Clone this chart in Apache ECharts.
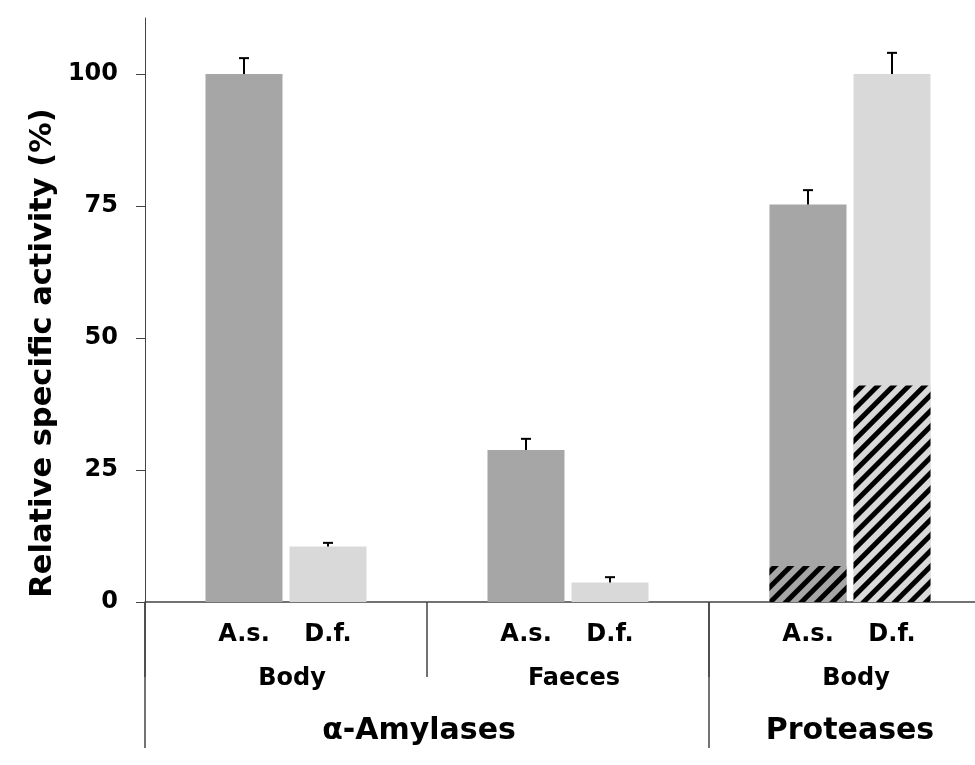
<!DOCTYPE html>
<html>
<head>
<meta charset="utf-8">
<script src="https://cdn.jsdelivr.net/npm/echarts@6/dist/echarts.min.js"></script>
<style>html,body{margin:0;padding:0;background:#fff;overflow:hidden;width:975px;height:765px}#c{width:991px;height:765px}</style>
</head>
<body>
<div id="c"></div>
<script>
const categories = ['Body', 'Faeces', 'Body'];
const seriesNames = ['A.s.', 'D.f.'];
const asValues = [100, 28.8, 75.3];
const dfValues = [10.5, 3.7, 100];
const asErrors = [3.0, 2.1, 2.7];
const dfErrors = [0.7, 1.0, 4.0];
const asHatch = [null, null, 6.8];
const dfHatch = [null, null, 41.0];
const yTicks = [0, 25, 50, 75, 100];
const yTitle = 'Relative specific activity (%)';
const groupNames = ['α-Amylases', 'Proteases'];
const groupSpans = [[0, 1], [2, 2]];

const FONT = 'DejaVu Sans';
const BAR_W = 77, BAR_GAP = 7;
const OFF = (BAR_W + BAR_GAP) / 2;
const AXIS_COLOR = '#444';

const chart = echarts.init(document.getElementById('c'), null, {renderer: 'canvas'});

function errSeries(vals, errs, offset) {
  return {
    type: 'custom',
    xAxisIndex: 0,
    z: 5,
    data: vals.map((v, i) => [i, v, errs[i]]),
    encode: {x: 0, y: 1},
    renderItem: function (params, api) {
      const i = api.value(0), v = api.value(1), e = api.value(2);
      const base = api.coord([i, v]);
      const top = api.coord([i, v + e]);
      const x = base[0] + offset;
      return {
        type: 'group',
        children: [
          {type: 'line', shape: {x1: x, y1: base[1], x2: x, y2: top[1]}, style: {stroke: '#000', lineWidth: 2}},
          {type: 'line', shape: {x1: x - 5, y1: top[1], x2: x + 5, y2: top[1]}, style: {stroke: '#000', lineWidth: 2}}
        ]
      };
    }
  };
}

const labelStyle = {show: true, position: 'bottom', distance: 21, fontFamily: FONT, fontWeight: 'bold', fontSize: 24, color: '#000'};
const decal = {symbol: 'rect', symbolSize: 1, color: '#000', dashArrayX: [1, 0], dashArrayY: [5, 6], rotation: -Math.PI / 4};
const gapPct = (BAR_GAP / BAR_W * 100).toFixed(1) + '%';

chart.setOption({
  animation: false,
  backgroundColor: '#fff',
  grid: {left: 145, right: 0, top: 18, bottom: 163, containLabel: false},
  xAxis: [{
    type: 'category',
    data: categories,
    axisLine: {lineStyle: {color: AXIS_COLOR, width: 1.5}},
    axisTick: {show: true, length: 75, interval: 0, alignWithLabel: false, lineStyle: {color: AXIS_COLOR, width: 1.5}},
    axisLabel: {margin: 65, fontFamily: FONT, fontWeight: 'bold', fontSize: 24, color: '#000', padding: [0, 0, 0, 12], interval: 0}
  }, {
    type: 'category',
    data: categories,
    show: false
  }],
  yAxis: {
    type: 'value',
    min: 0, max: 110.6, interval: 25,
    axisLine: {show: true, lineStyle: {color: AXIS_COLOR, width: 1}},
    axisTick: {show: true, length: 9, lineStyle: {color: AXIS_COLOR}, customValues: yTicks},
    splitLine: {show: false},
    axisLabel: {
      margin: 27, fontFamily: FONT, fontWeight: 'bold', fontSize: 24, color: '#000',
      customValues: yTicks,
      formatter: v => (yTicks.indexOf(v) >= 0 ? String(v) : '')
    }
  },
  series: [
    {name: seriesNames[0], type: 'bar', xAxisIndex: 0, data: asValues, barWidth: BAR_W, barGap: gapPct,
      itemStyle: {color: '#a6a6a6'}, label: Object.assign({formatter: seriesNames[0]}, labelStyle)},
    {name: seriesNames[1], type: 'bar', xAxisIndex: 0, data: dfValues, barWidth: BAR_W,
      itemStyle: {color: '#d9d9d9'}, label: Object.assign({formatter: seriesNames[1]}, labelStyle)},
    {name: 'hatchAs', type: 'bar', xAxisIndex: 1, data: asHatch, barWidth: BAR_W, barGap: gapPct, z: 3,
      itemStyle: {color: '#a6a6a6', decal: decal}},
    {name: 'hatchDf', type: 'bar', xAxisIndex: 1, data: dfHatch, barWidth: BAR_W, z: 3,
      itemStyle: {color: '#d9d9d9', decal: decal}},
    errSeries(asValues, asErrors, -OFF),
    errSeries(dfValues, dfErrors, OFF)
  ]
});

function px(i, v) { return chart.convertToPixel({gridIndex: 0}, [i, v]); }
const origin = px(0, 0);
const step = px(1, 0)[0] - origin[0];
const gridLeft = origin[0] - step / 2;
const bottomY = 748;
const graphics = [
  {type: 'line', shape: {x1: gridLeft, y1: origin[1], x2: gridLeft, y2: bottomY}, style: {stroke: AXIS_COLOR, lineWidth: 1.5}},
  {type: 'text', x: 43, y: 353, rotation: Math.PI / 2,
    style: {text: yTitle, font: 'bold 30.5px "' + FONT + '"', fill: '#000', textAlign: 'center', textVerticalAlign: 'middle'}}
];
groupSpans.forEach((span, gi) => {
  const xa = px(span[0], 0)[0], xb = px(span[1], 0)[0];
  graphics.push({type: 'text', x: (xa + xb) / 2 - (span[0] !== span[1] ? 8 : 0), y: 731,
    style: {text: groupNames[gi], font: 'bold 30px "' + FONT + '"', fill: '#000', textAlign: 'center', textVerticalAlign: 'middle'}});
  if (gi > 0) {
    const sx = xa - step / 2;
    graphics.push({type: 'line', shape: {x1: sx, y1: origin[1], x2: sx, y2: bottomY}, style: {stroke: AXIS_COLOR, lineWidth: 1.5}});
  }
});
chart.setOption({graphic: graphics});
</script>
</body>
</html>
